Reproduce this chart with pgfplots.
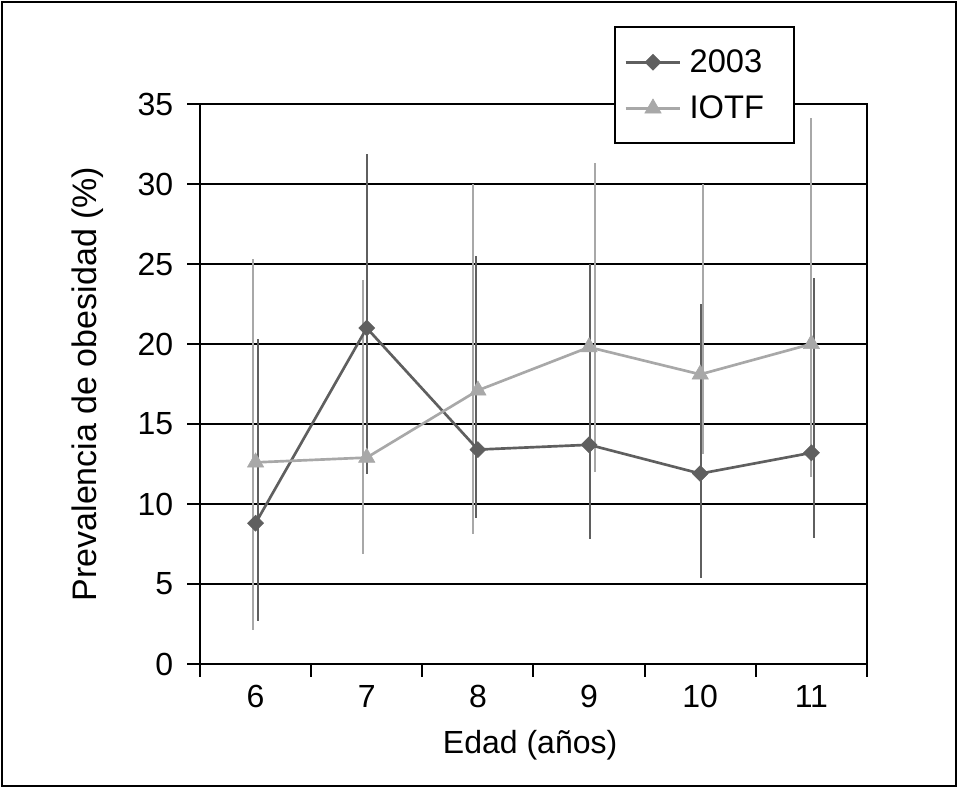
\documentclass[border=0pt]{standalone}
\usepackage{pgfplots}
\usepackage{pgfplotstable}
\pgfplotsset{compat=1.18}
\usepackage{fontspec}
\setmainfont{Liberation Sans}
\definecolor{darkser}{RGB}{95,95,95}
\definecolor{lightser}{RGB}{168,168,168}

% x  y  ex  plus  minus
\pgfplotstableread{
x y xe ep em
6 8.8 6.022 11.5 6.1
7 21.0 7.000 10.9 9.1
8 13.4 7.982 12.1 4.3
9 13.7 9.009 11.3 5.9
10 11.9 10.006 10.6 6.5
11 13.2 11.027 10.9 5.3
}\dataA
\pgfplotstableread{
x y xe ep em
6 12.6 5.978 12.7 10.5
7 12.9 6.964 11.1 6.0
8 17.1 7.955 12.9 9.0
9 19.8 9.054 11.5 7.8
10 18.1 10.027 11.9 5.0
11 20.0 11.000 14.1 8.3
}\dataB

\begin{document}
\begin{tikzpicture}
\useasboundingbox (0,0) rectangle (718.5pt,591pt);
\draw[line width=1.4pt] (1.2pt,1.2pt) rectangle (717.3pt,589.8pt);
\begin{axis}[
  at={(150pt,93pt)}, anchor=south west,
  scale only axis, width=500.25pt, height=420pt,
  xmin=5.5, xmax=11.5, ymin=0, ymax=35,
  xtick={5.5,6.5,...,11.5}, xticklabels={},
  ytick={0,5,...,35},
  xtick pos=bottom, ytick pos=left,
  extra x ticks={6,7,8,9,10,11}, extra x tick labels={6,7,8,9,10,11},
  extra x tick style={major tick length=0pt, grid=none,
     xticklabel style={yshift=-12.5pt}},
  tick align=outside, major tick length=9.5pt,
  xtick style={draw=black, line width=1.5pt},
  ytick style={draw=black, line width=1.5pt},
  ymajorgrids, grid style={black, line width=1.6pt},
  axis line style={line width=1.6pt},
  font=\fontsize{24pt}{29pt}\selectfont,
  tick label style={font=\fontsize{24pt}{29pt}\selectfont},
  yticklabel style={xshift=-7pt},
  /pgf/number format/assume math mode=true,
  every axis y label/.style={at={(axis description cs:-0.168,0.5)},rotate=90,anchor=center,font=\fontsize{25.5pt}{30pt}\selectfont},
  every axis x label/.style={at={(axis description cs:0.495,-0.145)},anchor=center,font=\fontsize{24pt}{29pt}\selectfont},
  xlabel={Edad (años)},
  ylabel={Prevalencia de obesidad (\%)},
  legend style={at={(axis description cs:0.6207,1.139)}, anchor=north west,
    draw=black, line width=1.5pt, fill=white, inner xsep=7pt, inner ysep=15pt,
    row sep=12pt, font=\fontsize{24.5pt}{29pt}\selectfont, cells={anchor=west}},
  legend image code/.code={\draw[mark repeat=2,mark phase=2] plot coordinates {(0pt,0pt) (20.5pt,0pt) (41pt,0pt)};},
]
\addplot[forget plot, draw=none, mark=none, lightser,
  error bars/.cd, y dir=both, y explicit, error mark=none,
  error bar style={line width=1.4pt, lightser}]
  table[x=xe, y=y, y error plus=ep, y error minus=em] {\dataB};
\addplot[forget plot, draw=none, mark=none, darkser,
  error bars/.cd, y dir=both, y explicit, error mark=none,
  error bar style={line width=1.4pt, darkser}]
  table[x=xe, y=y, y error plus=ep, y error minus=em] {\dataA};
\addplot[darkser, line width=2pt, mark=square*, mark size=4.2pt, mark options={solid, rotate=45, fill=darkser, line width=0.5pt}]
  table[x=x, y=y] {\dataA};
\addlegendentry{\hspace{4pt}\makebox[69pt][l]{2003}}
\addplot[lightser, line width=2pt, mark=triangle*, mark size=7pt, mark options={solid, fill=lightser, line width=0.5pt}]
  table[x=x, y=y] {\dataB};
\addlegendentry{\hspace{4pt}\makebox[69pt][l]{IOTF}}
\end{axis}
\end{tikzpicture}
\end{document}
